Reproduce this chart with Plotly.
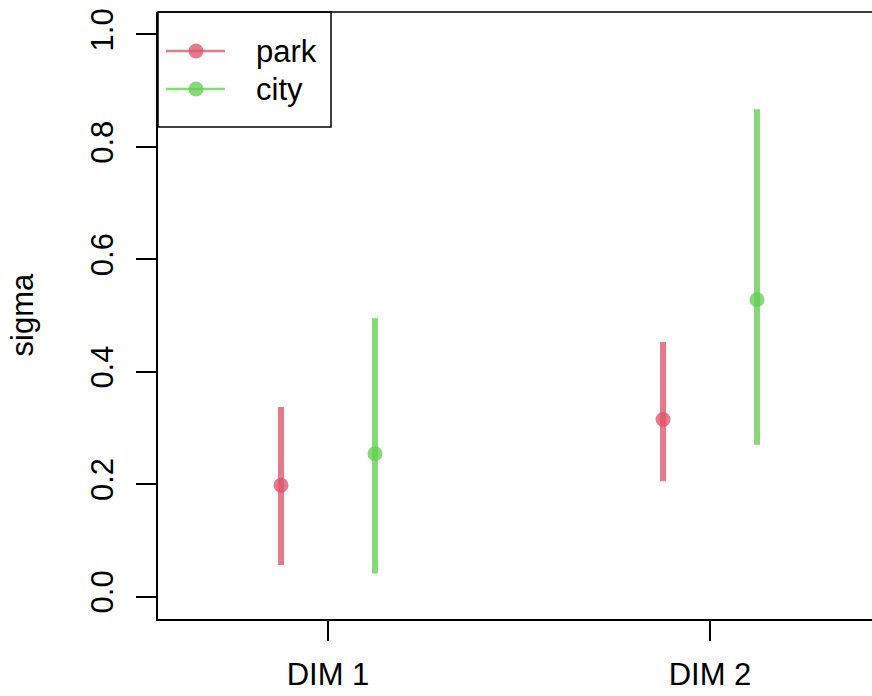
import plotly.graph_objects as go

dims = ["DIM 1", "DIM 2"]
series = ["park", "city"]
mean_park = [0.198, 0.315]
lower_park = [0.056, 0.205]
upper_park = [0.337, 0.453]
mean_city = [0.254, 0.528]
lower_city = [0.041, 0.270]
upper_city = [0.495, 0.867]
yticks = [0.0, 0.2, 0.4, 0.6, 0.8, 1.0]

colors = {"park": "rgba(223,83,107,0.78)", "city": "rgba(97,208,79,0.78)"}
offsets = {"park": -0.123, "city": 0.123}
data = {
    "park": (mean_park, lower_park, upper_park),
    "city": (mean_city, lower_city, upper_city),
}

FONT = "Liberation Sans, Arial, sans-serif"
FS = 31

fig = go.Figure()
for s in series:
    m, lo, hi = data[s]
    xs = [i + 1 + offsets[s] for i in range(len(dims))]
    fig.add_trace(go.Scatter(
        x=xs, y=m, mode="markers", showlegend=False, name=s,
        marker=dict(size=15, color=colors[s]),
        error_y=dict(type="data", symmetric=False,
                     array=[h - v for h, v in zip(hi, m)],
                     arrayminus=[v - l for v, l in zip(m, lo)],
                     width=0, thickness=6, color=colors[s]),
    ))

# plot area: 714 x 607 px ; legend positions in paper units
PW = 714.0
def px(v):
    return v / PW

leg_rows = {"park": 0.9357, "city": 0.8731}
for s in series:
    yv = leg_rows[s]
    fig.add_trace(go.Scatter(
        x=[px(8), px(67)], y=[yv, yv], mode="lines", showlegend=False,
        line=dict(color=colors[s], width=2.5), xaxis="x2", yaxis="y2",
        hoverinfo="skip"))
    fig.add_trace(go.Scatter(
        x=[px(38)], y=[yv], mode="markers", showlegend=False,
        marker=dict(size=15, color=colors[s]), xaxis="x2", yaxis="y2",
        hoverinfo="skip"))
    fig.add_annotation(x=px(96), y=yv, xref="paper", yref="paper", text=s,
                       showarrow=False, xanchor="left", yanchor="middle",
                       font=dict(family=FONT, size=FS, color="black"))

fig.add_shape(type="rect", xref="paper", yref="paper", x0=0, x1=px(173),
              y0=0.8105, y1=1, line=dict(color="black", width=1.5),
              fillcolor="rgba(0,0,0,0)")
# top frame line (R box() without the right side visible in the crop)
fig.add_shape(type="line", xref="paper", yref="paper", x0=0, x1=1.02,
              y0=1, y1=1, line=dict(color="black", width=1.5))

fig.add_annotation(x=px(-136), y=0.5, xref="paper", yref="paper", text="sigma",
                   textangle=-90, showarrow=False, xanchor="center",
                   yanchor="middle", font=dict(family=FONT, size=FS, color="black"))

fig.update_layout(
    width=872, height=696,
    margin=dict(l=158, r=0, t=12, b=77),
    plot_bgcolor="white", paper_bgcolor="white",
    showlegend=False,
    font=dict(family=FONT, size=FS, color="black"),
    xaxis=dict(range=[0.555, 2.424], tickvals=[1, 2], ticktext=dims,
               showgrid=False, zeroline=False, showline=True, linecolor="black",
               linewidth=1.5, mirror=False, ticks="outside", ticklen=20,
               tickwidth=1.5, tickcolor="black", ticklabelstandoff=7,
               automargin=False),
    yaxis=dict(range=[-0.04, 1.04], tickvals=yticks,
               ticktext=[f"{v:.1f}" for v in yticks], tickangle=-90,
               showgrid=False, zeroline=False, showline=True, linecolor="black",
               linewidth=1.5, mirror=False, ticks="outside", ticklen=20,
               tickwidth=1.5, tickcolor="black", ticklabelstandoff=11,
               automargin=False),
    xaxis2=dict(range=[0, 1], overlaying="x", visible=False, fixedrange=True),
    yaxis2=dict(range=[0, 1], overlaying="y", visible=False, fixedrange=True),
)

fig.write_html(
    "out.html",
    config={"displayModeBar": False},
    post_script="document.body.style.margin='0';document.body.style.overflow='hidden';",
)
